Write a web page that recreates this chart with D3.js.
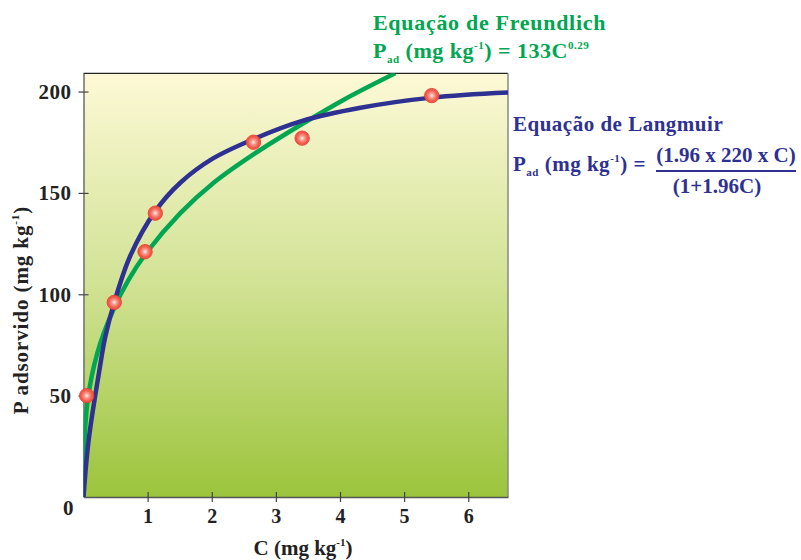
<!DOCTYPE html>
<html>
<head>
<meta charset="utf-8">
<script src="https://cdn.jsdelivr.net/npm/d3@7"></script>
<style>
  body { margin: 0; background: #fff; }
  svg text { font-family: "Liberation Serif", "Times New Roman", serif; font-weight: bold; }
</style>
</head>
<body>
<div id="chart"></div>
<script>
// measured points (C, P)
var pointsC = [0.05, 0.48, 0.96, 1.12, 2.65, 3.41, 5.43];
var pointsP = [50, 96, 121, 140, 175, 177, 198];

// curves
var langmuirC = [0, 0.08, 0.25, 0.34, 0.48, 0.73, 1.12, 1.51, 2.02, 2.65, 3.41, 4.32, 5.43, 6.62];
var langmuirP = [0, 28, 63, 79, 96, 119, 141, 155, 167, 176.5, 185.5, 192, 197, 199.5];
var freundlichC = [0, 0.005, 0.066, 0.22, 0.46, 0.70, 0.97, 1.51, 2.03, 2.65, 3.41, 4.06, 4.86];
var freundlichP = [0, 20, 48, 71.5, 92, 107, 120, 140, 155, 169, 184, 196, 209];

var xTicks = [1, 2, 3, 4, 5, 6];
var yTicks = [50, 100, 150, 200];

var BLUE = "#2e3192";
var GREEN = "#00a651";
var WIDTH = 801, HEIGHT = 560;

var svg = d3.select("#chart").append("svg")
  .attr("width", WIDTH)
  .attr("height", HEIGHT);

var x = d3.scaleLinear().domain([0, 6.62]).range([83.5, 508]);
var y = d3.scaleLinear().domain([0, 209]).range([497, 73.3]);

var defs = svg.append("defs");
var bg = defs.append("linearGradient").attr("id", "bg")
  .attr("x1", 0).attr("y1", 0).attr("x2", 0).attr("y2", 1);
bg.append("stop").attr("offset", "0%").attr("stop-color", "#fdf9d6");
bg.append("stop").attr("offset", "50%").attr("stop-color", "#d1e294");
bg.append("stop").attr("offset", "100%").attr("stop-color", "#9cc43c");

var dot = defs.append("radialGradient").attr("id", "dot")
  .attr("cx", "50%").attr("cy", "50%").attr("r", "50%");
dot.append("stop").attr("offset", "0%").attr("stop-color", "#fff4ee");
dot.append("stop").attr("offset", "35%").attr("stop-color", "#f8988a");
dot.append("stop").attr("offset", "80%").attr("stop-color", "#f05444");
dot.append("stop").attr("offset", "100%").attr("stop-color", "#f36a58");

defs.append("clipPath").attr("id", "plotClip")
  .append("rect")
  .attr("x", x(0)).attr("y", y(209))
  .attr("width", x(6.62) - x(0)).attr("height", y(0) - y(209));

// plot background
svg.append("rect")
  .attr("x", x(0)).attr("y", y(209))
  .attr("width", x(6.62) - x(0)).attr("height", y(0) - y(209))
  .attr("fill", "url(#bg)");

// frame: top dark, right grey
svg.append("line")
  .attr("x1", x(0)).attr("x2", x(6.62)).attr("y1", y(209)).attr("y2", y(209))
  .attr("stroke", "#222").attr("stroke-width", 1.3);
svg.append("line")
  .attr("x1", x(6.62)).attr("x2", x(6.62)).attr("y1", y(209)).attr("y2", y(0))
  .attr("stroke", "#888").attr("stroke-width", 1.5);

// axes
var xAxis = svg.append("g")
  .attr("transform", "translate(0," + y(0) + ")")
  .call(d3.axisBottom(x).tickValues(xTicks).tickSize(0).tickPadding(12).tickFormat(d3.format("d")));
xAxis.select(".domain").attr("stroke", "#555").attr("stroke-width", 1.6);
xAxis.selectAll(".tick line")
  .attr("y1", -5).attr("y2", 5).attr("stroke", "#444").attr("stroke-width", 1.2);
xAxis.selectAll(".tick text")
  .attr("font-size", 20).attr("fill", "#222")
  .attr("font-family", "Liberation Serif").attr("font-weight", "bold");

var yAxis = svg.append("g")
  .attr("transform", "translate(" + x(0) + ",0)")
  .call(d3.axisLeft(y).tickValues(yTicks).tickSize(0).tickPadding(12));
yAxis.select(".domain").attr("stroke", "#777").attr("stroke-width", 1.6);
yAxis.selectAll(".tick line")
  .attr("x1", -5).attr("x2", 5).attr("stroke", "#444").attr("stroke-width", 1.2);
yAxis.selectAll(".tick text")
  .attr("font-size", 21).attr("fill", "#222").attr("letter-spacing", 0.5)
  .attr("font-family", "Liberation Serif").attr("font-weight", "bold");

// shared origin label
svg.append("text")
  .attr("x", x(0) - 10).attr("y", y(0) + 18)
  .attr("text-anchor", "end")
  .attr("font-size", 21).attr("fill", "#222")
  .text("0");

// curves
var line = d3.line()
  .x(function(d) { return x(d[0]); })
  .y(function(d) { return y(d[1]); })
  .curve(d3.curveCatmullRom.alpha(0.5));

var plot = svg.append("g").attr("clip-path", "url(#plotClip)");

plot.append("path")
  .datum(d3.zip(freundlichC, freundlichP))
  .attr("d", line)
  .attr("fill", "none")
  .attr("stroke", GREEN)
  .attr("stroke-width", 4.5);

plot.append("path")
  .datum(d3.zip(langmuirC, langmuirP))
  .attr("d", line)
  .attr("fill", "none")
  .attr("stroke", BLUE)
  .attr("stroke-width", 4.5);

svg.selectAll("circle.pt")
  .data(d3.zip(pointsC, pointsP))
  .enter().append("circle")
  .attr("class", "pt")
  .attr("cx", function(d) { return x(d[0]); })
  .attr("cy", function(d) { return y(d[1]); })
  .attr("r", 7.2)
  .attr("fill", "url(#dot)")
  .attr("stroke", "#e8322a")
  .attr("stroke-width", 0.8);

// axis titles
var xt = svg.append("text")
  .attr("x", 303).attr("y", 555)
  .attr("text-anchor", "middle")
  .attr("font-size", 21).attr("fill", "#222");
xt.append("tspan").text("C (mg kg");
xt.append("tspan").attr("dy", -9).attr("font-size", 11).text("-1");
xt.append("tspan").attr("dy", 9).text(")");

var yt = svg.append("text")
  .attr("transform", "translate(28,310) rotate(-90)")
  .attr("text-anchor", "middle")
  .attr("font-size", 21).attr("letter-spacing", 0.9).attr("fill", "#222");
yt.append("tspan").text("P adsorvido (mg kg");
yt.append("tspan").attr("dy", -9).attr("font-size", 11).text("-1");
yt.append("tspan").attr("dy", 9).text(")");

// Freundlich label
svg.append("text")
  .attr("x", 373).attr("y", 29.5)
  .attr("font-size", 22).attr("letter-spacing", 0.7).attr("fill", GREEN)
  .text("Equação de Freundlich");
var fe = svg.append("text")
  .attr("x", 373).attr("y", 58)
  .attr("font-size", 22).attr("letter-spacing", 0.5).attr("fill", GREEN);
fe.append("tspan").text("P");
fe.append("tspan").attr("dy", 5).attr("font-size", 11).text("ad");
fe.append("tspan").attr("dy", -5).text(" (mg kg");
fe.append("tspan").attr("dy", -9).attr("font-size", 11).text("-1");
fe.append("tspan").attr("dy", 9).text(") = 133C");
fe.append("tspan").attr("dy", -9).attr("font-size", 11).text("0.29");

// Langmuir label
svg.append("text")
  .attr("x", 513).attr("y", 131)
  .attr("font-size", 21).attr("letter-spacing", 0.5).attr("fill", BLUE)
  .text("Equação de Langmuir");
var le = svg.append("text")
  .attr("x", 513).attr("y", 171)
  .attr("font-size", 21).attr("letter-spacing", 0.5).attr("fill", BLUE);
le.append("tspan").text("P");
le.append("tspan").attr("dy", 5).attr("font-size", 11).text("ad");
le.append("tspan").attr("dy", -5).text(" (mg kg");
le.append("tspan").attr("dy", -9).attr("font-size", 11).text("-1");
le.append("tspan").attr("dy", 9).text(") =");

svg.append("text")
  .attr("x", 726).attr("y", 162)
  .attr("text-anchor", "middle")
  .attr("font-size", 21).attr("fill", BLUE)
  .text("(1.96 x 220 x C)");
svg.append("line")
  .attr("x1", 656).attr("x2", 796).attr("y1", 171).attr("y2", 171)
  .attr("stroke", BLUE).attr("stroke-width", 1.8);
svg.append("text")
  .attr("x", 717).attr("y", 193)
  .attr("text-anchor", "middle")
  .attr("font-size", 21).attr("fill", BLUE)
  .text("(1+1.96C)");
</script>
</body>
</html>
